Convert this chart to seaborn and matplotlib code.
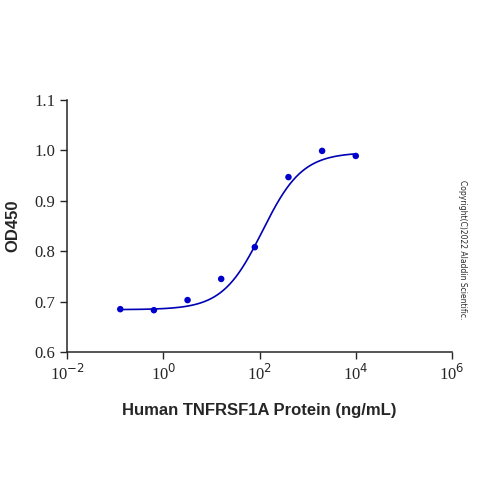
import numpy as np
import matplotlib
matplotlib.use("Agg")
import matplotlib.pyplot as plt
import seaborn as sns
import pandas as pd

conc = [0.128, 0.64, 3.2, 16, 80, 400, 2000, 10000]
od = [0.685, 0.683, 0.703, 0.745, 0.808, 0.947, 0.999, 0.989]
# 4PL fit parameters
bottom, top, ec50, hill = 0.684, 0.996, 115.0, 1.05

sns.set_style("ticks")
fig = plt.figure(figsize=(5, 5), dpi=100)
ax = fig.add_axes([0.134, 0.296, 0.77, 0.504])
xs = np.logspace(np.log10(0.128), 4, 300)
ys = bottom + (top - bottom) / (1 + (ec50 / xs) ** hill)
sns.lineplot(x=xs, y=ys, ax=ax, color="#0000b4", linewidth=1.2)
sns.scatterplot(data=pd.DataFrame({"c": conc, "od": od}), x="c", y="od", ax=ax,
                color="#0000cc", s=22, edgecolor="none", zorder=3)
ax.set_xscale("log")
ax.set_xlim(1e-2, 1e6)
ax.set_ylim(0.6, 1.1)
ax.set_xticks([1e-2, 1e0, 1e2, 1e4, 1e6])
ax.set_xticklabels(["10$^{-2}$", "10$^{0}$", "10$^{2}$", "10$^{4}$", "10$^{6}$"])
ax.xaxis.set_minor_locator(matplotlib.ticker.NullLocator())
ax.set_yticks([0.6, 0.7, 0.8, 0.9, 1.0, 1.1])
ax.set_yticklabels(["0.6", "0.7", "0.8", "0.9", "1.0", "1.1"])
for lab in ax.get_xticklabels() + ax.get_yticklabels():
    lab.set_family("Liberation Serif")
    lab.set_fontsize(12)
ax.tick_params(direction="out", length=5, width=1)
sns.despine(ax=ax)
for s in ["left", "bottom"]:
    ax.spines[s].set_linewidth(1.1)
ax.set_xlabel("Human TNFRSF1A Protein (ng/mL)", fontsize=12, fontweight="bold",
              family="Liberation Sans", labelpad=14)
ax.set_ylabel("OD450", fontsize=12, fontweight="bold", family="Liberation Sans", labelpad=10)
fig.text(0.925, 0.5, "Copyright(C)2022 Aladdin Scientific.", rotation=270,
         fontsize=5.5, ha="center", va="center")
fig.savefig("out.png", dpi=100)
